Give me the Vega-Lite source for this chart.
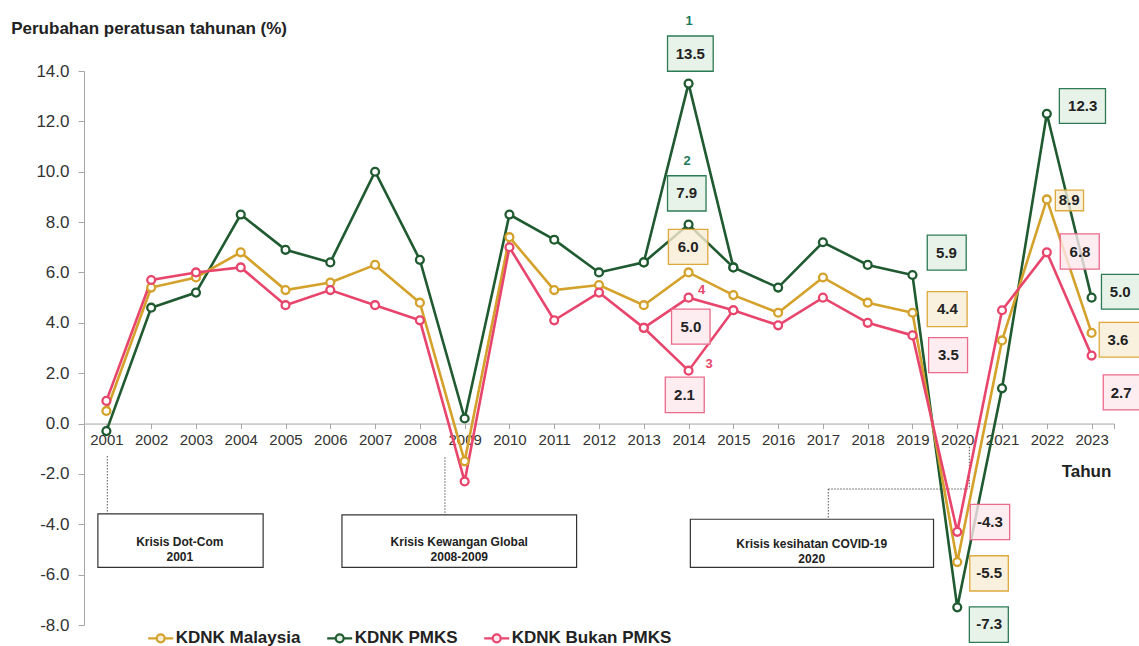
{
  "$schema": "https://vega.github.io/schema/vega-lite/v6.json",
  "width": 1030,
  "height": 554,
  "autosize": {"type": "none"},
  "padding": {"left": 84, "top": 71, "right": 25, "bottom": 21},
  "background": "white",
  "config": {"view": {"stroke": null}, "font": "Liberation Sans"},
  "datasets": {
    "series": [
      {"year": 2001, "series": "KDNK PMKS", "grp": "a", "value": -0.3},
      {"year": 2002, "series": "KDNK PMKS", "grp": "a", "value": 4.6},
      {"year": 2003, "series": "KDNK PMKS", "grp": "a", "value": 5.2},
      {"year": 2004, "series": "KDNK PMKS", "grp": "a", "value": 8.3},
      {"year": 2005, "series": "KDNK PMKS", "grp": "a", "value": 6.9},
      {"year": 2006, "series": "KDNK PMKS", "grp": "a", "value": 6.4},
      {"year": 2007, "series": "KDNK PMKS", "grp": "a", "value": 10.0},
      {"year": 2008, "series": "KDNK PMKS", "grp": "a", "value": 6.5},
      {"year": 2009, "series": "KDNK PMKS", "grp": "a", "value": 0.2},
      {"year": 2010, "series": "KDNK PMKS", "grp": "a", "value": 8.3},
      {"year": 2011, "series": "KDNK PMKS", "grp": "a", "value": 7.3},
      {"year": 2012, "series": "KDNK PMKS", "grp": "a", "value": 6.0},
      {"year": 2013, "series": "KDNK PMKS", "grp": "a", "value": 6.4},
      {"year": 2014, "series": "KDNK PMKS", "grp": "a", "value": 13.5},
      {"year": 2015, "series": "KDNK PMKS", "grp": "a", "value": 6.2},
      {"year": 2016, "series": "KDNK PMKS", "grp": "a", "value": 5.4},
      {"year": 2017, "series": "KDNK PMKS", "grp": "a", "value": 7.2},
      {"year": 2018, "series": "KDNK PMKS", "grp": "a", "value": 6.3},
      {"year": 2019, "series": "KDNK PMKS", "grp": "a", "value": 5.9},
      {"year": 2020, "series": "KDNK PMKS", "grp": "a", "value": -7.3},
      {"year": 2021, "series": "KDNK PMKS", "grp": "a", "value": 1.4},
      {"year": 2022, "series": "KDNK PMKS", "grp": "a", "value": 12.3},
      {"year": 2023, "series": "KDNK PMKS", "grp": "a", "value": 5.0},
      {"year": 2013, "series": "KDNK PMKS", "grp": "b", "value": 6.4},
      {"year": 2014, "series": "KDNK PMKS", "grp": "b", "value": 7.9},
      {"year": 2015, "series": "KDNK PMKS", "grp": "b", "value": 6.2},
      {"year": 2001, "series": "KDNK Malaysia", "grp": "a", "value": 0.5},
      {"year": 2002, "series": "KDNK Malaysia", "grp": "a", "value": 5.4},
      {"year": 2003, "series": "KDNK Malaysia", "grp": "a", "value": 5.8},
      {"year": 2004, "series": "KDNK Malaysia", "grp": "a", "value": 6.8},
      {"year": 2005, "series": "KDNK Malaysia", "grp": "a", "value": 5.3},
      {"year": 2006, "series": "KDNK Malaysia", "grp": "a", "value": 5.6},
      {"year": 2007, "series": "KDNK Malaysia", "grp": "a", "value": 6.3},
      {"year": 2008, "series": "KDNK Malaysia", "grp": "a", "value": 4.8},
      {"year": 2009, "series": "KDNK Malaysia", "grp": "a", "value": -1.5},
      {"year": 2010, "series": "KDNK Malaysia", "grp": "a", "value": 7.4},
      {"year": 2011, "series": "KDNK Malaysia", "grp": "a", "value": 5.3},
      {"year": 2012, "series": "KDNK Malaysia", "grp": "a", "value": 5.5},
      {"year": 2013, "series": "KDNK Malaysia", "grp": "a", "value": 4.7},
      {"year": 2014, "series": "KDNK Malaysia", "grp": "a", "value": 6.0},
      {"year": 2015, "series": "KDNK Malaysia", "grp": "a", "value": 5.1},
      {"year": 2016, "series": "KDNK Malaysia", "grp": "a", "value": 4.4},
      {"year": 2017, "series": "KDNK Malaysia", "grp": "a", "value": 5.8},
      {"year": 2018, "series": "KDNK Malaysia", "grp": "a", "value": 4.8},
      {"year": 2019, "series": "KDNK Malaysia", "grp": "a", "value": 4.4},
      {"year": 2020, "series": "KDNK Malaysia", "grp": "a", "value": -5.5},
      {"year": 2021, "series": "KDNK Malaysia", "grp": "a", "value": 3.3},
      {"year": 2022, "series": "KDNK Malaysia", "grp": "a", "value": 8.9},
      {"year": 2023, "series": "KDNK Malaysia", "grp": "a", "value": 3.6},
      {"year": 2001, "series": "KDNK Bukan PMKS", "grp": "a", "value": 0.9},
      {"year": 2002, "series": "KDNK Bukan PMKS", "grp": "a", "value": 5.7},
      {"year": 2003, "series": "KDNK Bukan PMKS", "grp": "a", "value": 6.0},
      {"year": 2004, "series": "KDNK Bukan PMKS", "grp": "a", "value": 6.2},
      {"year": 2005, "series": "KDNK Bukan PMKS", "grp": "a", "value": 4.7},
      {"year": 2006, "series": "KDNK Bukan PMKS", "grp": "a", "value": 5.3},
      {"year": 2007, "series": "KDNK Bukan PMKS", "grp": "a", "value": 4.7},
      {"year": 2008, "series": "KDNK Bukan PMKS", "grp": "a", "value": 4.1},
      {"year": 2009, "series": "KDNK Bukan PMKS", "grp": "a", "value": -2.3},
      {"year": 2010, "series": "KDNK Bukan PMKS", "grp": "a", "value": 7.0},
      {"year": 2011, "series": "KDNK Bukan PMKS", "grp": "a", "value": 4.1},
      {"year": 2012, "series": "KDNK Bukan PMKS", "grp": "a", "value": 5.2},
      {"year": 2013, "series": "KDNK Bukan PMKS", "grp": "a", "value": 3.8},
      {"year": 2014, "series": "KDNK Bukan PMKS", "grp": "a", "value": 2.1},
      {"year": 2015, "series": "KDNK Bukan PMKS", "grp": "a", "value": 4.5},
      {"year": 2016, "series": "KDNK Bukan PMKS", "grp": "a", "value": 3.9},
      {"year": 2017, "series": "KDNK Bukan PMKS", "grp": "a", "value": 5.0},
      {"year": 2018, "series": "KDNK Bukan PMKS", "grp": "a", "value": 4.0},
      {"year": 2019, "series": "KDNK Bukan PMKS", "grp": "a", "value": 3.5},
      {"year": 2020, "series": "KDNK Bukan PMKS", "grp": "a", "value": -4.3},
      {"year": 2021, "series": "KDNK Bukan PMKS", "grp": "a", "value": 4.5},
      {"year": 2022, "series": "KDNK Bukan PMKS", "grp": "a", "value": 6.8},
      {"year": 2023, "series": "KDNK Bukan PMKS", "grp": "a", "value": 2.7},
      {"year": 2013, "series": "KDNK Bukan PMKS", "grp": "b", "value": 3.8},
      {"year": 2014, "series": "KDNK Bukan PMKS", "grp": "b", "value": 5.0},
      {"year": 2015, "series": "KDNK Bukan PMKS", "grp": "b", "value": 4.5}
    ],
    "labels": [
      {"series": "KDNK PMKS", "label": "13.5", "x1": 2013.53, "x2": 2014.55, "y1": 15.39, "y2": 13.99, "cx": 2014.04, "cy": 14.69},
      {"series": "KDNK PMKS", "label": "7.9", "x1": 2013.53, "x2": 2014.39, "y1": 9.84, "y2": 8.44, "cx": 2013.96, "cy": 9.14},
      {"series": "KDNK Malaysia", "label": "6.0", "x1": 2013.55, "x2": 2014.43, "y1": 7.71, "y2": 6.32, "cx": 2013.99, "cy": 7.02},
      {"series": "KDNK Bukan PMKS", "label": "5.0", "x1": 2013.62, "x2": 2014.48, "y1": 4.54, "y2": 3.15, "cx": 2014.05, "cy": 3.84},
      {"series": "KDNK Bukan PMKS", "label": "2.1", "x1": 2013.48, "x2": 2014.35, "y1": 1.84, "y2": 0.43, "cx": 2013.91, "cy": 1.13},
      {"series": "KDNK PMKS", "label": "5.9", "x1": 2019.33, "x2": 2020.2, "y1": 7.48, "y2": 6.09, "cx": 2019.76, "cy": 6.78},
      {"series": "KDNK Malaysia", "label": "4.4", "x1": 2019.33, "x2": 2020.22, "y1": 5.24, "y2": 3.85, "cx": 2019.78, "cy": 4.54},
      {"series": "KDNK Bukan PMKS", "label": "3.5", "x1": 2019.36, "x2": 2020.23, "y1": 3.41, "y2": 2.02, "cx": 2019.8, "cy": 2.71},
      {"series": "KDNK Bukan PMKS", "label": "-4.3", "x1": 2020.29, "x2": 2021.17, "y1": -3.21, "y2": -4.61, "cx": 2020.73, "cy": -3.91},
      {"series": "KDNK Malaysia", "label": "-5.5", "x1": 2020.28, "x2": 2021.14, "y1": -5.25, "y2": -6.65, "cx": 2020.71, "cy": -5.95},
      {"series": "KDNK PMKS", "label": "-7.3", "x1": 2020.27, "x2": 2021.14, "y1": -7.28, "y2": -8.69, "cx": 2020.71, "cy": -7.98},
      {"series": "KDNK PMKS", "label": "12.3", "x1": 2022.28, "x2": 2023.31, "y1": 13.3, "y2": 11.92, "cx": 2022.8, "cy": 12.61},
      {"series": "KDNK Malaysia", "label": "8.9", "x1": 2022.19, "x2": 2022.82, "y1": 9.27, "y2": 8.45, "cx": 2022.5, "cy": 8.86},
      {"series": "KDNK Bukan PMKS", "label": "6.8", "x1": 2022.3, "x2": 2023.17, "y1": 7.53, "y2": 6.13, "cx": 2022.74, "cy": 6.83},
      {"series": "KDNK PMKS", "label": "5.0", "x1": 2023.22, "x2": 2024.1, "y1": 5.92, "y2": 4.54, "cx": 2023.64, "cy": 5.22},
      {"series": "KDNK Malaysia", "label": "3.6", "x1": 2023.17, "x2": 2024.1, "y1": 4.02, "y2": 2.64, "cx": 2023.59, "cy": 3.33},
      {"series": "KDNK Bukan PMKS", "label": "2.7", "x1": 2023.26, "x2": 2024.1, "y1": 1.93, "y2": 0.54, "cx": 2023.66, "cy": 1.23}
    ],
    "notes": [
      {"series": "KDNK PMKS", "note": "1", "cx": 2014.01, "cy": 15.99},
      {"series": "KDNK PMKS", "note": "2", "cx": 2013.97, "cy": 10.41},
      {"series": "KDNK Bukan PMKS", "note": "3", "cx": 2014.46, "cy": 2.35},
      {"series": "KDNK Bukan PMKS", "note": "4", "cx": 2014.29, "cy": 5.3}
    ],
    "crises": [
      {"text": "Krisis Dot-Com\n2001", "x1": 2000.81, "x2": 2004.5, "y1": -3.59, "y2": -5.71, "cx": 2002.64, "cy": -4.69},
      {"text": "Krisis Kewangan Global\n2008-2009", "x1": 2006.26, "x2": 2011.5, "y1": -3.63, "y2": -5.71, "cx": 2008.88, "cy": -4.71},
      {"text": "Krisis kesihatan COVID-19\n2020", "x1": 2014.04, "x2": 2019.47, "y1": -3.8, "y2": -5.71, "cx": 2016.75, "cy": -4.79}
    ],
    "connectors": [
      {"x1": 2001.02, "x2": 2001.02, "y1": -1.29, "y2": -3.59},
      {"x1": 2008.56, "x2": 2008.56, "y1": -1.34, "y2": -3.63},
      {"x1": 2020.27, "x2": 2020.27, "y1": -0.92, "y2": -2.6},
      {"x1": 2017.12, "x2": 2020.27, "y1": -2.6, "y2": -2.6},
      {"x1": 2017.12, "x2": 2017.12, "y1": -2.6, "y2": -3.8}
    ]
  },
  "layer": [
    {
      "data": {"name": "connectors"},
      "mark": {"type": "rule", "color": "#555555", "strokeWidth": 1, "strokeDash": [1.5, 1.5]},
      "encoding": {
        "x": {"field": "x1", "type": "quantitative"},
        "x2": {"field": "x2"},
        "y": {"field": "y1", "type": "quantitative"},
        "y2": {"field": "y2"}
      }
    },
    {
      "data": {"name": "crises"},
      "mark": {"type": "rect", "fill": "white", "stroke": "#333333", "strokeWidth": 1.2},
      "encoding": {
        "x": {"field": "x1", "type": "quantitative"},
        "x2": {"field": "x2"},
        "y": {"field": "y1", "type": "quantitative"},
        "y2": {"field": "y2"}
      }
    },
    {
      "data": {"name": "crises"},
      "mark": {"type": "text", "fontSize": 12, "fontWeight": "bold", "color": "#222222", "lineBreak": "\n", "lineHeight": 15, "align": "center", "baseline": "middle"},
      "encoding": {
        "x": {"field": "cx", "type": "quantitative"},
        "y": {"field": "cy", "type": "quantitative"},
        "text": {"field": "text"}
      }
    },
    {
      "data": {"name": "series"},
      "mark": {"type": "line", "strokeWidth": 2.6},
      "encoding": {
        "x": {
          "field": "year", "type": "quantitative",
          "scale": {"domain": [2000.5, 2023.5], "nice": false, "zero": false},
          "axis": {
            "title": "Tahun",
            "values": [2001, 2002, 2003, 2004, 2005, 2006, 2007, 2008, 2009, 2010, 2011, 2012, 2013, 2014, 2015, 2016, 2017, 2018, 2019, 2020, 2021, 2022, 2023, 2023.5],
            "labelExpr": "datum.value > 2023.2 ? '' : format(datum.value, 'd')",
            "offset": -201.45,
            "grid": false,
            "domainColor": "#A6A6A6",
            "tickColor": "#A6A6A6",
            "tickSize": 5,
            "labelFontSize": 15,
            "labelColor": "#333333",
            "labelPadding": 4,
            "labelOverlap": false,
            "titleFontSize": 17,
            "titleFontWeight": "bold",
            "titleColor": "#222222",
            "titleX": 1002,
            "titleY": 47.5,
            "titleAlign": "center",
            "titleBaseline": "middle"
          }
        },
        "y": {
          "field": "value", "type": "quantitative",
          "scale": {"domain": [-8, 14], "nice": false, "zero": false},
          "axis": {
            "title": "Perubahan peratusan tahunan (%)",
            "values": [-8, -6, -4, -2, 0, 2, 4, 6, 8, 10, 12, 14],
            "labelExpr": "(datum.value < 0 ? '-' : '') + format(abs(datum.value), '.1f')",
            "grid": false,
            "domainColor": "#A6A6A6",
            "tickColor": "#A6A6A6",
            "tickSize": 6,
            "labelPadding": 9,
            "labelFontSize": 17,
            "labelColor": "#333333",
            "labelOverlap": false,
            "titleAngle": 0,
            "titleAlign": "left",
            "titleBaseline": "middle",
            "titleX": -73.3,
            "titleY": -42.7,
            "titleFontSize": 17,
            "titleFontWeight": "bold",
            "titleColor": "#222222"
          }
        },
        "color": {
          "field": "series", "type": "nominal",
          "scale": {"domain": ["KDNK Malaysia", "KDNK PMKS", "KDNK Bukan PMKS"], "range": ["#D4A12A", "#1F5A30", "#E8456C"]},
          "legend": {
            "orient": "none",
            "legendX": 62.7,
            "legendY": 553,
            "direction": "horizontal",
            "title": null,
            "padding": 0,
            "symbolType": "M-1,0H-0.32M0.32,0H1M0.32,0A0.32,0.32,0,1,1,-0.32,0A0.32,0.32,0,1,1,0.32,0Z",
            "symbolSize": 625,
            "symbolStrokeWidth": 2.2,
            "symbolFillColor": "white",
            "labelFontSize": 17,
            "labelFontWeight": "bold",
            "labelColor": "#222222",
            "labelOffset": 1,
            "columnPadding": 22
          }
        },
        "detail": {"field": "grp"}
      }
    },
    {
      "data": {"name": "series"},
      "mark": {"type": "point", "shape": "circle", "filled": false, "fill": "white", "size": 62, "strokeWidth": 2.3, "opacity": 1},
      "encoding": {
        "x": {"field": "year", "type": "quantitative"},
        "y": {"field": "value", "type": "quantitative"},
        "color": {"field": "series", "type": "nominal"}
      }
    },
    {
      "data": {"name": "labels"},
      "mark": {"type": "rect", "strokeWidth": 1.3, "fillOpacity": 0.8},
      "encoding": {
        "x": {"field": "x1", "type": "quantitative"},
        "x2": {"field": "x2"},
        "y": {"field": "y1", "type": "quantitative"},
        "y2": {"field": "y2"},
        "fill": {"field": "series", "type": "nominal", "scale": {"domain": ["KDNK Malaysia", "KDNK PMKS", "KDNK Bukan PMKS"], "range": ["#F8ECD4", "#E1F0E4", "#FCE8EE"]}, "legend": null},
        "stroke": {"field": "series", "type": "nominal", "scale": {"domain": ["KDNK Malaysia", "KDNK PMKS", "KDNK Bukan PMKS"], "range": ["#DDA93D", "#2D7A55", "#EC6A8A"]}, "legend": null}
      }
    },
    {
      "data": {"name": "labels"},
      "mark": {"type": "text", "fontSize": 15, "fontWeight": "bold", "color": "#222222", "align": "center", "baseline": "middle"},
      "encoding": {
        "x": {"field": "cx", "type": "quantitative"},
        "y": {"field": "cy", "type": "quantitative"},
        "text": {"field": "label"}
      }
    },
    {
      "data": {"name": "notes"},
      "transform": [{"filter": "datum.series == 'KDNK PMKS'"}],
      "mark": {"type": "text", "fontSize": 13, "fontWeight": "bold", "color": "#1B7A5A", "align": "center", "baseline": "middle"},
      "encoding": {
        "x": {"field": "cx", "type": "quantitative"},
        "y": {"field": "cy", "type": "quantitative"},
        "text": {"field": "note"}
      }
    },
    {
      "data": {"name": "notes"},
      "transform": [{"filter": "datum.series == 'KDNK Bukan PMKS'"}],
      "mark": {"type": "text", "fontSize": 13, "fontWeight": "bold", "color": "#E8456C", "align": "center", "baseline": "middle"},
      "encoding": {
        "x": {"field": "cx", "type": "quantitative"},
        "y": {"field": "cy", "type": "quantitative"},
        "text": {"field": "note"}
      }
    }
  ]
}
